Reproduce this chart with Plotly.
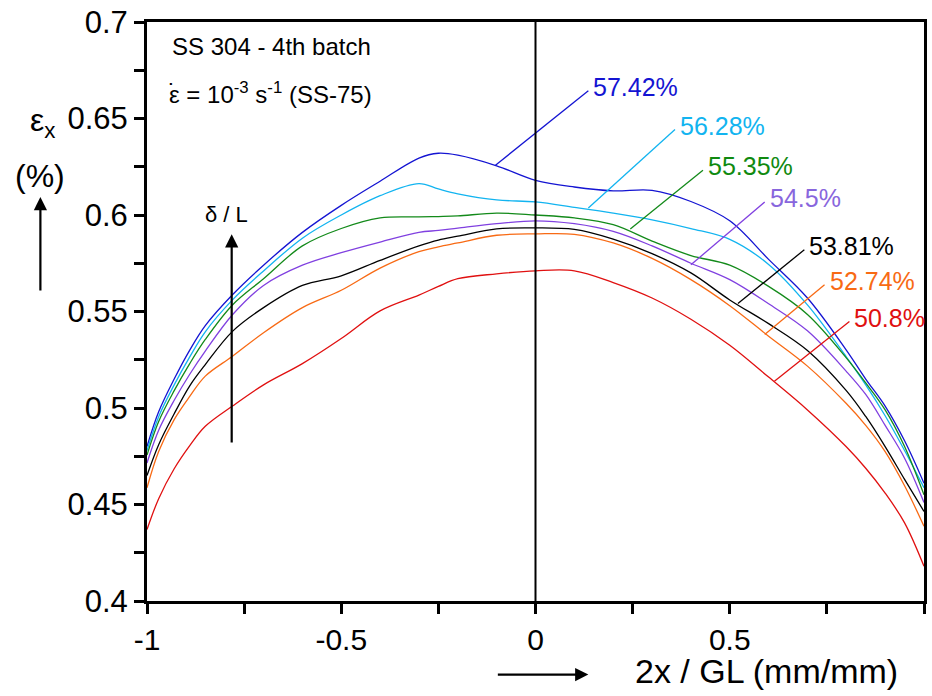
import plotly.graph_objects as go

# Normalised position along the gauge length
x_pos = [-1, -0.97, -0.93, -0.89, -0.85, -0.78, -0.7, -0.6, -0.5, -0.4, -0.3, -0.25, -0.2,
         -0.1, 0, 0.1, 0.2, 0.3, 0.4, 0.5, 0.6, 0.7, 0.8, 0.85, 0.9, 0.95, 1]

# Axial strain profiles (%) at increasing elongation delta/L
eps_5742 = [0.480, 0.498, 0.515, 0.530, 0.5427, 0.5587, 0.574, 0.591, 0.605, 0.6175, 0.6295, 0.632, 0.631,
            0.6255, 0.618, 0.6145, 0.6125, 0.6128, 0.607, 0.597, 0.577, 0.557, 0.530, 0.515, 0.501, 0.483, 0.461]
eps_5628 = [0.478, 0.4955, 0.512, 0.5265, 0.5395, 0.556, 0.571, 0.588, 0.600, 0.610, 0.6163, 0.6135, 0.611,
            0.6078, 0.6068, 0.604, 0.601, 0.5975, 0.593, 0.5874, 0.5744, 0.5534, 0.5265, 0.512, 0.496, 0.478, 0.4587]
eps_5535 = [0.4756, 0.493, 0.509, 0.523, 0.5355, 0.5534, 0.567, 0.584, 0.593, 0.5985, 0.599, 0.5992, 0.5995,
            0.601, 0.600, 0.5985, 0.595, 0.5865, 0.579, 0.574, 0.563, 0.5485, 0.526, 0.513, 0.499, 0.480, 0.455]
eps_5450 = [0.4715, 0.4885, 0.504, 0.5175, 0.5295, 0.5483, 0.5635, 0.574, 0.5805, 0.586, 0.591, 0.592, 0.5932,
            0.5955, 0.597, 0.5955, 0.5915, 0.584, 0.575, 0.5665, 0.554, 0.540, 0.519, 0.507, 0.491, 0.474, 0.451]
eps_5381 = [0.465, 0.481, 0.497, 0.5115, 0.5225, 0.5397, 0.552, 0.5635, 0.5685, 0.5765, 0.584, 0.587, 0.589,
            0.5928, 0.5933, 0.5925, 0.5875, 0.580, 0.570, 0.556, 0.5437, 0.5298, 0.509, 0.4956, 0.480, 0.463, 0.4464]
eps_5274 = [0.4587, 0.4775, 0.494, 0.506, 0.5165, 0.5268, 0.539, 0.552, 0.561, 0.5725, 0.581, 0.5835, 0.5855,
            0.5895, 0.5902, 0.590, 0.5855, 0.5775, 0.5665, 0.553, 0.5372, 0.5217, 0.5023, 0.491, 0.4774, 0.4597, 0.4387]
eps_5080 = [0.437, 0.453, 0.4685, 0.4805, 0.4905, 0.501, 0.512, 0.523, 0.536, 0.5503, 0.5585, 0.563, 0.567,
            0.5695, 0.5711, 0.5711, 0.565, 0.557, 0.546, 0.5325, 0.516, 0.499, 0.4799, 0.4688, 0.4559, 0.4405, 0.418]

series_labels = ["57.42%", "56.28%", "55.35%", "54.5%", "53.81%", "52.74%", "50.8%"]
series_values = [eps_5742, eps_5628, eps_5535, eps_5450, eps_5381, eps_5274, eps_5080]
line_colors = ["#1414d2", "#12b4f0", "#138a1a", "#8040e0", "#000000", "#f86a14", "#e01010"]
label_colors = ["#1414d2", "#12b4f0", "#108a10", "#8866dd", "#000000", "#f86a14", "#e01010"]

# Leader lines: (point on curve) -> (label anchor)
leader_start = [(-0.103, 0.6258), (0.136, 0.6036), (0.244, 0.5928), (0.40, 0.5742),
                (0.521, 0.5541), (0.59, 0.5381), (0.615, 0.5139)]
leader_end = [(0.136, 0.6644), (0.359, 0.6443), (0.431, 0.6232), (0.59, 0.6067),
              (0.692, 0.582), (0.744, 0.5639), (0.808, 0.5448)]

x_ticks = [-1, -0.75, -0.5, -0.25, 0, 0.25, 0.5, 0.75, 1]
x_ticktext = ["-1", "", "-0.5", "", "0", "", "0.5", "", "1"]
y_ticks = [0.4, 0.425, 0.45, 0.475, 0.5, 0.525, 0.55, 0.575, 0.6, 0.625, 0.65, 0.675, 0.7]
y_ticktext = ["0.4", "", "0.45", "", "0.5", "", "0.55", "", "0.6", "", "0.65", "", "0.7"]

FONT = "Liberation Sans, Arial, sans-serif"

fig = go.Figure()

for name, vals, col in zip(series_labels, series_values, line_colors):
    fig.add_trace(go.Scatter(x=x_pos, y=vals, mode="lines", name=name,
                             line=dict(color=col, width=1.3, shape="spline", smoothing=1.0),
                             showlegend=False, hoverinfo="skip"))

for (x0, y0), (x1, y1), col, lab, lcol in zip(leader_start, leader_end, line_colors,
                                               series_labels, label_colors):
    fig.add_trace(go.Scatter(x=[x0, x1], y=[y0, y1], mode="lines",
                             line=dict(color=col, width=1.3), showlegend=False,
                             hoverinfo="skip"))
    fig.add_annotation(x=x1, y=y1, text=lab, showarrow=False, xanchor="left",
                       yanchor="middle", xshift=3, yshift=4,
                       font=dict(family=FONT, size=25, color=lcol))

# Centre line at x = 0
fig.add_shape(type="line", x0=0, x1=0, y0=0.4, y1=0.7, xref="x", yref="y",
              line=dict(color="black", width=2))

# Specimen info
fig.add_annotation(xref="paper", yref="paper", x=0.029, y=0.957, text="SS 304 - 4th batch",
                   showarrow=False, xanchor="left", yanchor="middle",
                   font=dict(family=FONT, size=24, color="black"))
fig.add_annotation(xref="paper", yref="paper", x=0.0256, y=0.878,
                   text="\u03b5 = 10<sup>-3</sup> s<sup>-1</sup> (SS-75)",
                   showarrow=False, xanchor="left", yanchor="middle",
                   font=dict(family=FONT, size=24, color="black"))
# rate dot over epsilon
fig.add_annotation(xref="paper", yref="paper", x=0.0327, y=0.8797, text="\u02d9",
                   showarrow=False, xanchor="center", yanchor="middle",
                   font=dict(family=FONT, size=24, color="black"))

# delta / L arrow
fig.add_annotation(x=-0.795, y=0.6005, text="\u03b4 / L", showarrow=False,
                   xanchor="center", yanchor="middle",
                   font=dict(family=FONT, size=22, color="black"))
fig.add_annotation(x=-0.782, y=0.590, ax=-0.782, ay=0.4814, axref="x", ayref="y",
                   text="", showarrow=True, arrowhead=2, arrowsize=1.2, arrowwidth=2.2,
                   arrowcolor="black")

# Y axis title with arrow
fig.add_annotation(xref="paper", yref="paper", x=-0.135, y=0.826, text="\u03b5<sub>x</sub>",
                   showarrow=False, xanchor="center", yanchor="middle",
                   font=dict(family=FONT, size=32, color="black"))
fig.add_annotation(xref="paper", yref="paper", x=-0.138, y=0.734, text="(%)",
                   showarrow=False, xanchor="center", yanchor="middle",
                   font=dict(family=FONT, size=32, color="black"))
fig.add_annotation(xref="paper", yref="paper", x=-0.1372, y=0.6976, ax=0, ay=95,
                   text="", showarrow=True, arrowhead=2, arrowsize=1.2, arrowwidth=2.2,
                   arrowcolor="black")

# X axis title with arrow
fig.add_annotation(xref="paper", yref="paper", x=0.6255, y=-0.121, text="2x / GL (mm/mm)",
                   showarrow=False, xanchor="left", yanchor="middle",
                   font=dict(family=FONT, size=34, color="black"))
fig.add_annotation(xref="paper", yref="paper", x=0.568, y=-0.127, ax=-92, ay=0,
                   text="", showarrow=True, arrowhead=2, arrowsize=1.2, arrowwidth=2.2,
                   arrowcolor="black")

fig.update_xaxes(range=[-1, 1], tickvals=x_ticks, ticktext=x_ticktext, ticks="outside",
                 ticklen=10, tickwidth=3, tickcolor="black", showline=True, linewidth=3,
                 linecolor="black", mirror=True, showgrid=False, zeroline=False,
                 tickfont=dict(family=FONT, size=30, color="black"))
fig.update_yaxes(range=[0.4, 0.7], tickvals=y_ticks, ticktext=y_ticktext, ticks="outside",
                 ticklen=10, tickwidth=3, tickcolor="black", showline=True, linewidth=3,
                 linecolor="black", mirror=True, showgrid=False, zeroline=False,
                 tickfont=dict(family=FONT, size=31, color="black"))

fig.update_layout(width=932, height=696, margin=dict(l=147, r=5, t=19, b=95),
                  plot_bgcolor="white", paper_bgcolor="white")

fig.write_html("out.html")
